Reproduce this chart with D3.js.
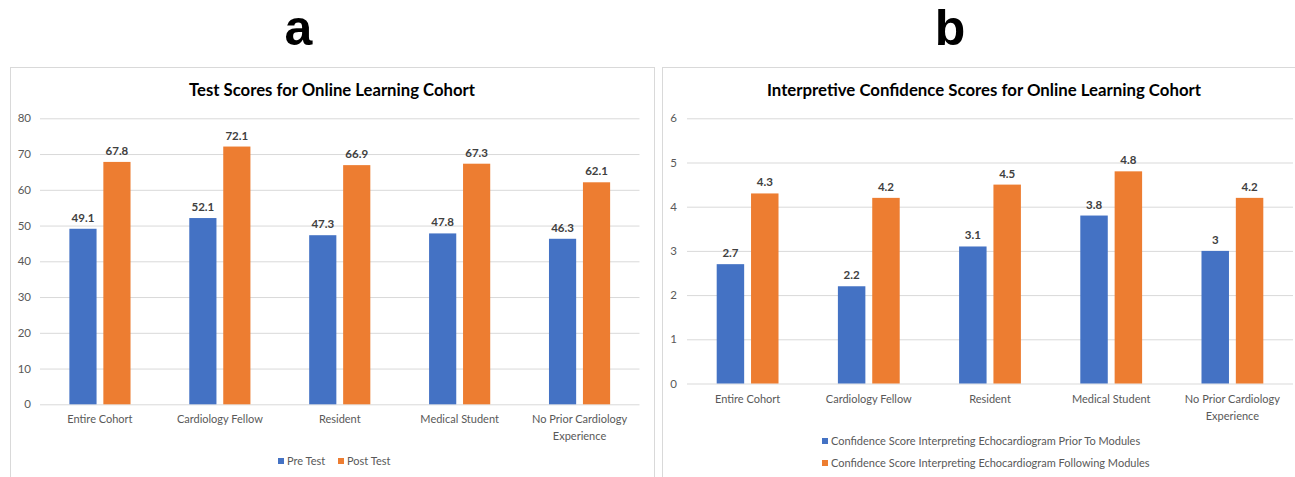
<!DOCTYPE html>
<html>
<head>
<meta charset="utf-8">
<script src="https://cdn.jsdelivr.net/npm/d3@7"></script>
<style>
  html, body { margin: 0; padding: 0; background: #fff; }
  svg { display: block; }
</style>
</head>
<body>
<script>
// ---------- data ----------
const categories = ["Entire Cohort", "Cardiology Fellow", "Resident", "Medical Student", "No Prior Cardiology Experience"];
const categoryLines = [["Entire Cohort"], ["Cardiology Fellow"], ["Resident"], ["Medical Student"], ["No Prior Cardiology", "Experience"]];

const seriesA = ["Pre Test", "Post Test"];
const preTest = [49.1, 52.1, 47.3, 47.8, 46.3];
const postTest = [67.8, 72.1, 66.9, 67.3, 62.1];
const ticksA = [0, 10, 20, 30, 40, 50, 60, 70, 80];

const seriesB = ["Confidence Score Interpreting Echocardiogram Prior To Modules",
                 "Confidence Score Interpreting Echocardiogram Following Modules"];
const priorScores = [2.7, 2.2, 3.1, 3.8, 3];
const followingScores = [4.3, 4.2, 4.5, 4.8, 4.2];
const ticksB = [0, 1, 2, 3, 4, 5, 6];

const colors = ["#4472C4", "#ED7D31"];

// ---------- drawing ----------
const W = 1295, H = 477;
const svg = d3.select("body").append("svg").attr("width", W).attr("height", H);
const FONT = "Lato, 'Open Sans', sans-serif";
const LABEL_SIZE = 11;

function drawPanel(cfg) {
  const g = svg.append("g");
  // panel border
  g.append("rect")
    .attr("x", cfg.box[0] + 0.5).attr("y", cfg.box[1] + 0.5)
    .attr("width", cfg.box[2]).attr("height", cfg.box[3])
    .attr("fill", "#fff").attr("stroke", "#D9D9D9").attr("stroke-width", 1);

  // title
  g.append("text")
    .attr("x", cfg.titleX).attr("y", cfg.titleY)
    .attr("text-anchor", "middle")
    .attr("font-family", FONT).attr("font-weight", 700)
    .attr("font-size", cfg.titleSize).attr("fill", "#000")
    .text(cfg.title);

  const x = d3.scaleBand().domain(categories).range([cfg.x0, cfg.x1]).paddingInner(0.49).paddingOuter(0.245);
  const xs = d3.scaleBand().domain(cfg.series).range([0, x.bandwidth()]).paddingInner(0.2);
  const y = d3.scaleLinear().domain(cfg.domain).range([cfg.y0, cfg.yTop]);

  // gridlines + y tick labels via axis
  const yAxis = d3.axisLeft(y).tickValues(cfg.ticks).tickSize(-(cfg.x1 - cfg.x0)).tickPadding(cfg.tickPad).tickFormat(d3.format("d"));
  const ya = g.append("g").attr("transform", `translate(${cfg.x0},0)`).call(yAxis);
  ya.select(".domain").remove();
  ya.selectAll(".tick line").attr("stroke", "#D9D9D9").attr("stroke-width", 1);
  ya.selectAll(".tick text").attr("font-family", FONT).attr("font-size", 11.5).attr("fill", "#595959");

  // bars
  const groups = g.append("g").selectAll("g").data(categories).join("g")
    .attr("transform", d => `translate(${x(d)},0)`);
  cfg.values.forEach((vals, si) => {
    groups.append("rect")
      .attr("x", xs(cfg.series[si]))
      .attr("y", (d, i) => y(vals[i]))
      .attr("width", xs.bandwidth())
      .attr("height", (d, i) => y(cfg.domain[0]) - y(vals[i]))
      .attr("fill", colors[si]);
    groups.append("text")
      .attr("x", xs(cfg.series[si]) + xs.bandwidth() / 2)
      .attr("y", (d, i) => y(vals[i]) - 7)
      .attr("text-anchor", "middle")
      .attr("font-family", FONT).attr("font-weight", 700)
      .attr("font-size", 11.5).attr("fill", "#404040")
      .text((d, i) => vals[i]);
  });

  // category labels
  const xl = g.append("g");
  categories.forEach((c, i) => {
    const t = xl.append("text")
      .attr("x", x(c) + x.bandwidth() / 2)
      .attr("y", cfg.catY)
      .attr("text-anchor", "middle")
      .attr("font-family", FONT).attr("font-size", LABEL_SIZE).attr("fill", "#595959");
    categoryLines[i].forEach((ln, k) => {
      t.append("tspan").attr("x", x(c) + x.bandwidth() / 2).attr("dy", k === 0 ? 0 : 17).text(ln);
    });
  });

  // legend
  const lg = g.append("g");
  cfg.legend.forEach((p, si) => {
    lg.append("rect").attr("x", p[0]).attr("y", p[1] - 3).attr("width", 6).attr("height", 6).attr("fill", colors[si]);
    lg.append("text").attr("x", p[0] + 9).attr("y", p[1] + 4)
      .attr("font-family", FONT).attr("font-size", LABEL_SIZE).attr("fill", "#595959")
      .text(cfg.series[si]);
  });
}

drawPanel({
  box: [10, 67, 644, 412],
  title: "Test Scores for Online Learning Cohort", titleX: 332, titleY: 96, titleSize: 16.7,
  x0: 40, x1: 639.5, y0: 404.3, yTop: 118.3, domain: [0, 80], ticks: ticksA, tickPad: 9,
  series: seriesA, values: [preTest, postTest],
  catY: 423,
  legend: [[278, 461], [338, 461]]
});

drawPanel({
  box: [662, 67, 660, 412],
  title: "Interpretive Confidence Scores for Online Learning Cohort", titleX: 984, titleY: 96, titleSize: 16.8,
  x0: 687, x1: 1293, y0: 383.5, yTop: 118.3, domain: [0, 6], ticks: ticksB, tickPad: 10,
  series: seriesB, values: [priorScores, followingScores],
  catY: 403,
  legend: [[822, 441], [822, 463]]
});

// panel letters
[["a", 298.5], ["b", 950]].forEach(([t, cx]) => {
  svg.append("text").attr("x", cx).attr("y", 45).attr("text-anchor", "middle")
    .attr("font-family", "'Liberation Sans', Arial, sans-serif").attr("font-weight", 700)
    .attr("font-size", 50).attr("fill", "#000").text(t);
});
</script>
</body>
</html>
